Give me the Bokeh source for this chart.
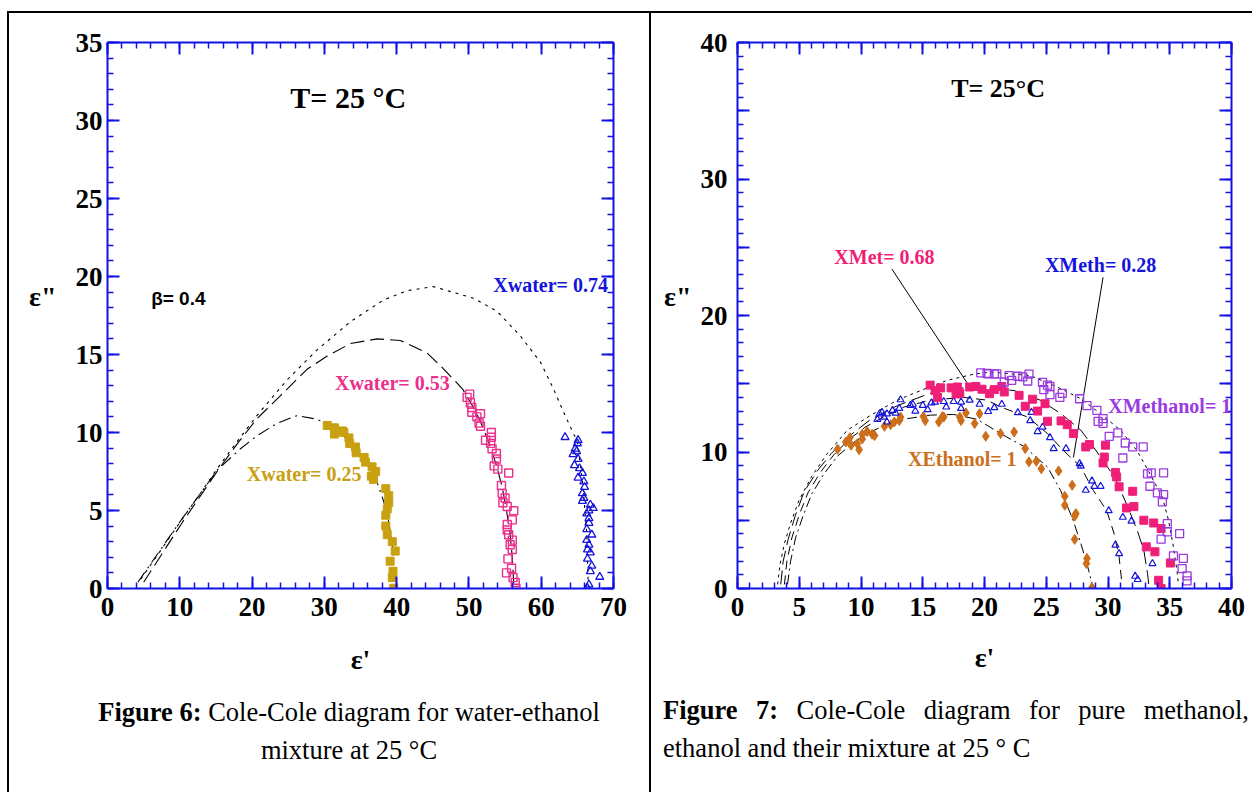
from bokeh.plotting import figure
from bokeh.models import Label, LinearAxis, FixedTicker, Div
from bokeh.layouts import row, column
from bokeh.embed import file_html
from bokeh.resources import INLINE

# ======================= Figure 6 data (water-ethanol) =======================
fit074_x = [4.6, 7.0, 10.1, 13.0, 15.2, 17.9, 20.7, 24.9, 29.0, 33.6, 38.2, 41.5, 45.1,
            50.7, 53.9, 57.1, 59.9, 61.7, 63.1, 65.0, 65.8, 66.3, 66.5]
fit074_y = [0.6, 2.2, 4.3, 6.2, 7.7, 9.4, 11.1, 13.4, 15.3, 17.1, 18.5, 19.1, 19.35,
            18.6, 17.76, 16.2, 14.5, 12.8, 11.3, 9.4, 6.5, 3.5, 0.3]
fit053_x = [5.0, 10.3, 15.3, 18.0, 20.7, 23.9, 27.6, 30.4, 33.6, 37.3, 40.5, 44.2, 46.1,
            49.1, 50.5, 51.5, 52.8, 53.8, 54.6, 55.2, 55.7, 56.0, 56.2]
fit053_y = [0.4, 4.2, 7.6, 9.3, 10.9, 12.35, 14.05, 14.9, 15.7, 16.0, 15.9, 15.1, 14.26,
            12.8, 11.7, 10.8, 9.3, 7.9, 6.5, 5.0, 3.5, 2.0, 0.3]
fit025_x = [4.2, 9.9, 15.2, 18.4, 20.7, 23.5, 26.2, 29.0, 31.3, 34.1, 36.0, 37.3, 38.2,
            38.9, 39.4, 39.6, 39.7]
fit025_y = [0.4, 4.2, 7.6, 8.96, 9.8, 10.6, 11.08, 10.85, 10.3, 9.2, 8.1, 6.8, 5.6,
            4.3, 2.8, 1.3, 0.05]

w025_x = [30.4, 31.4, 31.4, 32.5, 32.7, 33.4, 33.5, 34.3, 34.4, 35.5, 35.7, 36.6, 37.1,
          36.5, 36.8, 38.5, 38.9, 38.9, 38.7, 38.5, 38.5, 38.7, 39.4, 39.8, 39.1, 39.5,
          39.4, 39.6]
w025_y = [10.45, 10.3, 9.9, 10.1, 10.0, 9.65, 9.3, 9.07, 8.7, 8.4, 8.1, 7.8, 7.5,
          7.2, 7.0, 6.4, 5.95, 5.5, 5.1, 4.7, 4.0, 3.45, 3.0, 2.4, 1.75, 1.1,
          0.7, 0.02]
w053_x = [50.1, 49.75, 50.2, 50.4, 50.4, 51.1, 51.6, 51.4, 51.6, 53.1, 53.1, 52.3, 53.0,
          53.2, 53.8, 53.8, 53.5, 54.0, 55.5, 54.5, 54.6, 55.0, 54.7, 55.3, 56.2, 56.0,
          55.3, 55.3, 55.5, 56.0, 55.7, 56.0, 55.4, 55.9, 55.2, 56.1, 56.4, 56.5]
w053_y = [12.46, 12.25, 11.9, 11.6, 11.3, 11.0, 11.2, 10.6, 10.4, 10.0, 9.7, 9.5, 9.3,
          8.96, 8.65, 8.3, 7.86, 7.65, 7.4, 6.6, 6.1, 5.8, 5.5, 5.26, 4.98, 4.4,
          4.1, 3.75, 3.45, 3.1, 2.8, 2.5, 1.9, 1.3, 1.0, 0.7, 0.38, 0.02]
w074_x = [63.3, 65.1, 65.0, 64.7, 64.9, 64.4, 65.1, 64.6, 65.3, 65.7, 65.1, 65.9, 66.0,
          65.7, 65.9, 65.7, 66.8, 66.6, 67.2, 66.3, 66.6, 66.6, 67.0, 66.3, 66.3, 66.6,
          66.4, 66.8, 66.4, 67.0, 66.8, 68.1, 66.6, 66.4]
w074_y = [9.7, 9.5, 9.3, 8.96, 8.8, 8.6, 8.3, 7.9, 7.7, 7.4, 7.1, 6.85, 6.5,
          6.1, 5.8, 5.6, 5.36, 5.0, 5.15, 4.8, 4.5, 4.2, 3.45, 3.8, 3.1, 2.8,
          2.5, 2.3, 1.9, 1.45, 1.1, 0.74, 0.25, 0.02]

# ======================= Figure 7 data (methanol-ethanol) ====================
fitMeOH_x = [3.25, 3.45, 3.8, 4.3, 5.0, 6.0, 7.2, 8.9, 10.8, 12.95, 15.1, 17.0, 19.1, 20.5,
             23.7, 25.9, 27.8, 29.4, 31.0, 32.35, 33.4, 34.4, 34.9, 35.3, 35.6, 35.7]
fitMeOH_y = [0.3, 1.8, 3.3, 4.8, 6.5, 8.2, 9.8, 11.6, 12.7, 13.8, 14.6, 15.25, 15.7, 15.86,
             15.6, 14.76, 13.9, 12.8, 11.6, 10.1, 8.4, 6.7, 5.0, 3.05, 1.2, 0.3]
fitMet068_x = [3.5, 3.7, 4.1, 4.7, 5.4, 6.5, 7.6, 8.8, 10.8, 12.95, 15.6, 18.3, 19.7, 22.4,
               24.5, 26.2, 27.8, 28.8, 30.5, 31.5, 32.35, 32.9, 33.2, 33.3]
fitMet068_y = [0.3, 2.0, 3.6, 5.4, 7.1, 8.66, 9.9, 11.0, 12.4, 13.4, 14.3, 14.7, 14.76, 14.5,
               13.8, 12.8, 11.6, 10.4, 8.2, 6.2, 4.3, 2.8, 1.1, 0.3]
fitMeth028_x = [3.8, 4.0, 4.4, 5.0, 5.7, 6.7, 7.8, 9.0, 10.3, 11.6, 13.5, 15.6, 18.3, 20.2,
                21.3, 23.5, 25.1, 26.4, 27.8, 28.8, 29.9, 30.5, 30.9, 31.1]
fitMeth028_y = [0.3, 2.0, 3.7, 5.4, 7.0, 8.5, 9.8, 10.9, 11.8, 12.45, 13.3, 13.8, 14.0, 13.8,
                13.3, 12.56, 11.35, 10.1, 8.9, 7.2, 5.7, 4.0, 2.3, 0.6]
fitEtOH_x = [4.05, 4.3, 4.7, 5.3, 6.0, 7.0, 8.1, 9.4, 10.6, 11.9, 13.8, 15.6, 17.5, 19.4,
             21.3, 23.2, 25.1, 26.15, 27.1, 27.8, 28.3, 28.7]
fitEtOH_y = [0.3, 2.0, 3.7, 5.3, 6.9, 8.4, 9.7, 10.7, 11.4, 11.95, 12.45, 12.7, 12.75, 12.4,
             11.35, 10.4, 8.9, 7.2, 5.2, 3.3, 1.8, 0.37]

EtOH_x = [8.1, 8.77, 9.1, 9.2, 9.7, 9.85, 10.1, 10.1, 10.5, 10.9, 11.1, 11.9, 12.4, 12.7,
          13.1, 13.2, 15.05, 15.2, 16.3, 16.6, 16.7, 18.0, 18.1, 18.5, 19.2, 19.6, 20.1,
          21.3, 22.4, 23.3, 23.6, 24.2, 24.6, 26.0, 27.1, 26.5, 26.5, 27.4, 27.3, 27.3,
          28.3, 28.25, 28.7]
EtOH_y = [10.2, 10.73, 11.05, 10.5, 10.6, 10.17, 11.3, 10.95, 11.5, 11.3, 11.2, 11.88, 12.0,
          12.2, 12.3, 12.56, 12.6, 12.3, 12.2, 12.6, 12.56, 12.56, 12.3, 12.86, 12.08, 12.8,
          11.15, 11.35, 11.47, 10.25, 9.28, 9.32, 8.77, 8.61, 7.56, 6.76, 6.1, 5.49, 5.3,
          3.6, 2.2, 1.83, 0.07]
Meth028_x = [11.33, 11.5, 11.7, 11.87, 12.1, 12.1, 12.55, 12.8, 13.1, 13.2, 14.0, 14.2, 14.4,
             15.0, 15.4, 15.7, 16.0, 16.7, 16.9, 17.5, 18.1, 18.1, 18.8, 19.6, 20.3, 20.8,
             21.4, 22.7, 23.8, 23.7, 24.7, 24.3, 25.3, 25.6, 26.6, 27.7, 27.8, 28.7, 28.9,
             29.4, 28.2, 30.06, 31.2, 31.9, 30.6, 30.9, 33.6, 32.2, 32.4]
Meth028_y = [12.39, 12.8, 12.9, 12.55, 12.8, 12.2, 13.05, 12.85, 13.2, 13.83, 13.42, 13.5, 13.0,
             13.42, 13.1, 13.6, 13.65, 13.7, 13.3, 13.7, 13.66, 13.2, 13.8, 13.5, 12.97, 13.25,
             13.5, 12.88, 12.9, 12.3, 11.83, 11.5, 11.05, 10.25, 10.25, 9.15, 8.96, 7.88, 7.49,
             7.49, 7.2, 5.7, 5.22, 4.94, 3.18, 2.56, 1.83, 0.9, 0.66]
Met068_x = [15.6, 16.0, 16.2, 16.45, 17.3, 17.8, 18.0, 17.7, 18.8, 19.3, 19.8, 20.4, 20.8,
            21.4, 21.6, 22.8, 23.9, 24.3, 23.3, 24.9, 25.1, 26.2, 26.7, 27.2, 28.2, 28.5,
            29.8, 29.7, 29.6, 30.6, 30.7, 30.9, 32.0, 31.5, 32.1, 32.9, 33.7, 34.3, 33.1,
            33.8, 35.05, 34.1, 34.3]
Met068_y = [14.9, 14.5, 14.0, 14.7, 14.7, 14.76, 14.3, 14.25, 14.76, 14.8, 14.6, 14.27, 14.57,
            14.8, 14.4, 14.15, 13.87, 13.0, 13.35, 13.54, 12.25, 12.28, 12.0, 11.35, 10.37, 10.55,
            10.5, 9.63, 9.2, 8.5, 8.17, 7.45, 7.12, 5.9, 6.0, 5.0, 4.8, 4.39, 3.05,
            2.69, 1.87, 0.6, 0.0]
MeOH_x = [19.7, 20.2, 20.3, 20.8, 21.0, 21.6, 22.0, 22.2, 22.7, 23.1, 23.5, 23.6, 24.7, 24.8,
          25.1, 25.3, 25.3, 26.1, 26.3, 27.7, 28.3, 29.1, 29.2, 29.6, 29.6, 30.1, 30.8, 31.4,
          32.0, 32.85, 31.2, 33.2, 33.5, 34.5, 33.4, 34.0, 34.5, 34.4, 34.8, 35.8, 34.3, 34.8,
          35.3, 36.1, 36.0, 36.4, 36.4]
MeOH_y = [15.8, 15.76, 15.73, 15.73, 15.73, 15.13, 15.6, 15.25, 15.55, 15.5, 15.2, 15.7, 15.1,
          14.57, 14.9, 14.8, 14.2, 14.0, 14.3, 13.9, 13.4, 13.05, 12.25, 12.45, 12.1, 11.15,
          11.4, 10.66, 10.37, 10.37, 9.56, 8.4, 8.47, 8.47, 7.49, 7.0, 6.88, 6.35, 4.75, 4.02,
          3.61, 4.15, 2.39, 2.2, 1.46, 0.93, 0.56]

leader_met_x = [12.5, 19.0]
leader_met_y = [23.4, 14.5]
leader_meth_x = [29.6, 27.2]
leader_meth_y = [22.8, 9.6]

# ============================== styling ======================================
BLUE_AX = "#1212e6"
SERIF = "Liberation Serif"
GOLD = "#c9a010"
PINK6 = "#ea2f8c"
BLUE = "#1414dc"
PINK7 = "#ef1f78"
PURPLE = "#9a3ae0"
ORANGE = "#cc6e1a"


def style_axes(p, xt, xm, yt, ym, ystand, xlab, ylab, xlab_stand, ylab_stand, y_over=None):
    p.xgrid.visible = False
    p.ygrid.visible = False
    p.outline_line_color = None
    bottom = p.below[0]
    left = p.left[0]
    top = LinearAxis()
    right = LinearAxis()
    p.add_layout(top, "above")
    p.add_layout(right, "right")
    for ax, ticks, minor in [(bottom, xt, xm), (top, xt, xm),
                             (left, yt, ym), (right, yt, ym)]:
        ax.ticker = FixedTicker(ticks=ticks, minor_ticks=minor)
        ax.axis_line_color = BLUE_AX
        ax.axis_line_width = 2
        ax.major_tick_line_color = BLUE_AX
        ax.major_tick_line_width = 2
        ax.minor_tick_line_color = BLUE_AX
        ax.minor_tick_line_width = 1.5
        ax.major_tick_in = 12
        ax.major_tick_out = 0
        ax.minor_tick_in = 6
        ax.minor_tick_out = 0
        ax.major_label_text_font = SERIF
        ax.major_label_text_font_style = "bold"
        ax.major_label_text_font_size = "27px"
        ax.major_label_text_color = "black"
    for ax in (top, right):
        ax.major_label_text_color = None
        ax.major_label_text_font_size = "1px"
        ax.major_label_standoff = 0
    bottom.major_label_standoff = 9
    left.major_label_standoff = ystand
    if y_over:
        left.major_label_overrides = y_over
    for ax, text, st in [(bottom, xlab, xlab_stand), (left, ylab, ylab_stand)]:
        ax.axis_label = text
        ax.axis_label_text_font = SERIF
        ax.axis_label_text_font_style = "bold"
        ax.axis_label_text_font_size = "28px"
        ax.axis_label_text_color = "black"
        ax.axis_label_standoff = st
    left.axis_label_orientation = "horizontal"


def lab(p, x, y, text, color="black", size=20, font=SERIF, style="bold", align="center"):
    p.add_layout(Label(x=x, y=y, text=text,
                       text_color=color, text_font=font, text_font_size=f"{size}px",
                       text_font_style=style, text_align=align, text_baseline="middle"))


# ------------------------------ Figure 6 -------------------------------------
p1 = figure(width=644, height=667, x_range=(0, 70), y_range=(0, 35),
            min_border_left=98, min_border_right=40, min_border_top=28, min_border_bottom=89,
            output_backend="svg", toolbar_location=None,
            background_fill_color="white", border_fill_color="white",
            margin=(11, 0, 0, 7),
            styles={"border-top": "2px solid black", "border-left": "2px solid black",
                    "border-right": "2px solid black"})
style_axes(p1, list(range(0, 71, 10)), list(range(0, 71, 2)),
           list(range(0, 36, 5)), list(range(0, 36, 1)), 5,
           "ε'", 'ε"\n ', 25, 16)

p1.line(fit074_x, fit074_y, line_color="black", line_width=1.1, line_dash="3 5")
p1.line(fit053_x, fit053_y, line_color="black", line_width=1.1, line_dash="14 6")
p1.line(fit025_x, fit025_y, line_color="black", line_width=1.1, line_dash="12 5 2 5")

p1.scatter(w025_x, w025_y, marker="square", size=8, fill_color=GOLD, line_color=GOLD)
p1.scatter(w053_x, w053_y, marker="square", size=8, fill_color=None, line_color=PINK6, line_width=1.4)
p1.scatter(w074_x, w074_y, marker="triangle", size=8, fill_color=None, line_color=BLUE, line_width=1.3)

lab(p1, 33.3, 31.5, "T= 25 °C", size=30)
lab(p1, 9.8, 18.6, "β= 0.4", size=19, font="Liberation Sans")
lab(p1, 61.3, 19.45, "Xwater= 0.74", BLUE)
lab(p1, 39.4, 13.2, "Xwater= 0.53", PINK6)
lab(p1, 27.2, 7.37, "Xwater= 0.25", GOLD)

# ------------------------------ Figure 7 -------------------------------------
p2 = figure(width=601, height=667, x_range=(0, 40), y_range=(0, 40),
            min_border_left=86, min_border_right=21, min_border_top=29, min_border_bottom=92,
            output_backend="svg", toolbar_location=None,
            background_fill_color="white", border_fill_color="white",
            margin=(11, 0, 0, 0),
            styles={"border-top": "2px solid black"})
style_axes(p2, list(range(0, 41, 5)), list(range(0, 41, 1)),
           list(range(0, 41, 5)), list(range(0, 41, 1)), 10,
           "ε'", 'ε"\n ', 23, 6,
           y_over={5: "", 15: "", 25: "", 35: ""})

p2.line(fitMeOH_x, fitMeOH_y, line_color="black", line_width=1.0, line_dash="3 4")
p2.line(fitMet068_x, fitMet068_y, line_color="black", line_width=1.0, line_dash="14 6")
p2.line(fitMeth028_x, fitMeth028_y, line_color="black", line_width=1.0, line_dash="9 6")
p2.line(fitEtOH_x, fitEtOH_y, line_color="black", line_width=1.0, line_dash="10 4 2 4")
p2.line(leader_met_x, leader_met_y, line_color="black", line_width=1)
p2.line(leader_meth_x, leader_meth_y, line_color="black", line_width=1)

p2.scatter(EtOH_x, EtOH_y, marker="diamond", size=10, fill_color=ORANGE, line_color=ORANGE)
p2.scatter(Meth028_x, Meth028_y, marker="triangle", size=7, fill_color=None, line_color=BLUE, line_width=1.2)
p2.scatter(Met068_x, Met068_y, marker="square", size=8, fill_color=PINK7, line_color=PINK7)
p2.scatter(MeOH_x, MeOH_y, marker="square", size=8, fill_color=None, line_color=PURPLE, line_width=1.3)

lab(p2, 21.1, 36.6, "T= 25°C", size=26)
lab(p2, 11.9, 24.25, "XMet= 0.68", PINK7)
lab(p2, 29.4, 23.7, "XMeth= 0.28", BLUE)
lab(p2, 35.0, 13.35, "XMethanol= 1", PURPLE)
lab(p2, 18.2, 9.47, "XEthanol= 1", ORANGE)

# ------------------------------ captions -------------------------------------
cap_font = ("font-family:'Liberation Serif','Times New Roman',serif;font-size:26.5px;"
            "line-height:38px;color:black;")
cap6 = Div(text=(f'<div style="{cap_font}text-align:center;padding:15px 0 0 40px;width:640px;">'
                 '<div><b>Figure 6:</b> Cole-Cole diagram for water-ethanol</div>'
                 '<div>mixture at 25 °C</div></div>'),
           width=644, height=114, margin=(0, 0, 0, 7),
           styles={"border-left": "2px solid black", "border-right": "2px solid black"})
cap7 = Div(text=(f'<div style="{cap_font}padding:13px 0 0 12px;width:598px;">'
                 '<div style="text-align:justify;text-align-last:justify;">'
                 '<b>Figure 7:</b> Cole-Cole diagram for pure methanol,</div>'
                 '<div style="text-align:left;">ethanol and their mixture at 25 ° C</div></div>'),
           width=601, height=114, margin=(0, 0, 0, 0))

page = column(row(p1, p2), row(cap6, cap7))
open("out.html", "w").write(file_html(page, INLINE))
